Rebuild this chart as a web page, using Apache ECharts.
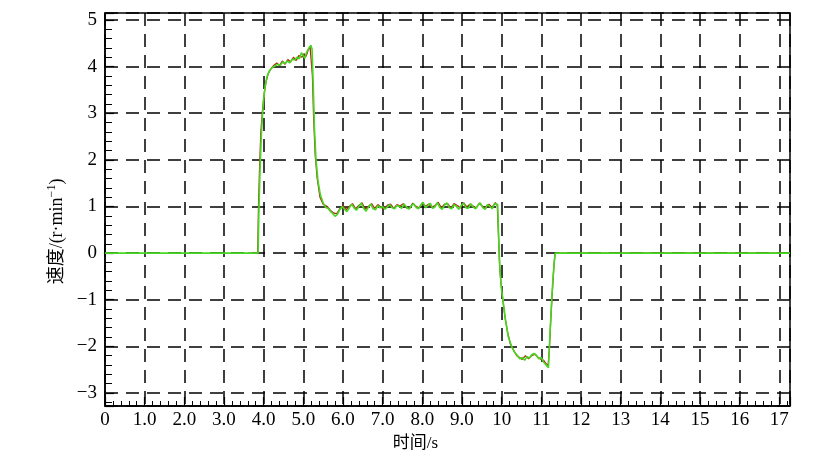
<!DOCTYPE html>
<html><head><meta charset="utf-8">
<script src="https://cdn.jsdelivr.net/npm/echarts@6/dist/echarts.min.js"></script>
<style>html,body{margin:0;padding:0;background:#fff}#c{width:825px;height:471px}</style>
</head><body><div id="c"></div>
<script>
const xTickLabels = ['0','1.0','2.0','3.0','4.0','5.0','6.0','7.0','8.0','9.0','10','11','12','13','14','15','16','17'];
const yTickLabels = {'-3':'−3','-2':'−2','-1':'−1','0':'0','1':'1','2':'2','3':'3','4':'4','5':'5'};

// green series (time s, speed r/min)
const greenTime = [
  0, 3.86, 3.88, 3.91, 3.94, 3.97, 4.00, 4.04, 4.09, 4.15,
  4.22, 4.30, 4.36, 4.42, 4.48, 4.54, 4.60, 4.66, 4.72, 4.78,
  4.84, 4.90, 4.95, 5.00, 5.04, 5.08, 5.12, 5.16, 5.19, 5.22,
  5.25, 5.28, 5.32, 5.37, 5.43, 5.50, 5.56,
  5.62, 5.68, 5.74, 5.80, 5.86, 5.92, 5.98, 6.04, 6.10, 6.16,
  6.22, 6.28, 6.34, 6.40, 6.46, 6.52, 6.58, 6.64, 6.70, 6.76,
  6.82, 6.88, 6.94, 7.00, 7.06, 7.12, 7.18, 7.24, 7.30, 7.36,
  7.42, 7.48, 7.54, 7.60, 7.66, 7.72, 7.78, 7.84, 7.90, 7.96,
  8.02, 8.08, 8.14, 8.20, 8.26, 8.32, 8.38, 8.44, 8.50, 8.56,
  8.62, 8.68, 8.74, 8.80, 8.86, 8.92, 8.98, 9.04, 9.10, 9.16,
  9.22, 9.28, 9.34, 9.40, 9.46, 9.52, 9.58, 9.64, 9.70, 9.76,
  9.82,
  9.87, 9.90, 9.93, 9.96, 10.00, 10.04, 10.10, 10.17, 10.25, 10.32,
  10.40, 10.46, 10.52, 10.58, 10.64, 10.70, 10.76, 10.82, 10.88, 10.94,
  11.00, 11.05, 11.10, 11.15, 11.18, 11.21, 11.25, 11.29, 11.33, 11.35,
  17.27
];
const greenSpeed = [
  0, 0, 0.9, 1.8, 2.5, 2.95, 3.3, 3.6, 3.8, 3.92,
  3.98, 4.02, 4.05, 4.03, 4.10, 4.07, 4.12, 4.08, 4.16, 4.14,
  4.20, 4.17, 4.30, 4.26, 4.18, 4.30, 4.37, 4.40, 4.46, 4.38,
  3.6, 2.7, 2.0, 1.55, 1.25, 1.08, 0.98,
  0.96, 0.90, 0.85, 0.79, 0.83, 0.93, 1.00, 0.94, 0.89, 0.97,
  1.05, 0.97, 0.92, 1.00, 1.07, 0.96, 0.90, 0.98, 1.05, 0.95,
  0.93, 1.02, 0.97, 1.00, 0.94, 0.99, 1.04, 0.97, 0.95, 1.02,
  1.00, 0.96, 1.05, 0.99, 0.94, 1.01, 1.06, 0.98, 0.95, 1.03,
  1.09, 0.97, 1.02, 1.07, 0.96, 0.99, 1.08, 0.98, 0.94, 1.03,
  1.08, 0.97, 0.95, 1.04, 1.00, 0.94, 1.02, 1.07, 0.97, 0.96,
  1.06, 0.99, 0.95, 1.02, 1.08, 0.98, 0.94, 1.04, 1.00, 0.95,
  1.06,
  1.10, 1.04, 0.2, -0.4, -0.8, -1.05, -1.45, -1.8, -2.0, -2.12,
  -2.2, -2.27, -2.24, -2.30, -2.22, -2.25, -2.18, -2.15, -2.20, -2.27,
  -2.24, -2.33, -2.38, -2.42, -2.46, -1.9, -1.2, -0.6, -0.15, 0,
  0
];

// red series (time s, speed r/min)
const redTime = [
  3.60, 3.85, 3.87, 3.90, 3.93, 3.97, 4.01, 4.06, 4.12, 4.19,
  4.26, 4.33, 4.40, 4.47, 4.54, 4.61, 4.68, 4.75, 4.82, 4.89,
  4.96, 5.02, 5.07, 5.12, 5.17, 5.20, 5.23, 5.26, 5.30, 5.35,
  5.42, 5.50,
  5.60, 5.68, 5.76, 5.84, 5.92, 6.00, 6.08, 6.16, 6.24, 6.32,
  6.40, 6.48, 6.56, 6.64, 6.72, 6.80, 6.88, 6.96, 7.04, 7.12,
  7.20, 7.28, 7.36, 7.44, 7.52, 7.60, 7.68, 7.76, 7.84, 7.92,
  8.00, 8.08, 8.16, 8.24, 8.32, 8.40, 8.48, 8.56, 8.64, 8.72,
  8.80, 8.88, 8.96, 9.04, 9.12, 9.20, 9.28, 9.36, 9.44, 9.52,
  9.60, 9.68, 9.76, 9.84,
  9.89, 9.92, 9.95, 9.99, 10.03, 10.08, 10.15, 10.22, 10.30, 10.38,
  10.45, 10.52, 10.60, 10.68, 10.76, 10.84, 10.92, 11.00, 11.06, 11.12,
  11.17, 11.20, 11.24, 11.28, 11.32, 11.35, 17.27
];
const redSpeed = [
  0, 0, 1.0, 1.9, 2.6, 3.05, 3.4, 3.68, 3.86, 3.96,
  4.03, 4.08, 4.02, 4.12, 4.05, 4.15, 4.10, 4.20, 4.13, 4.24,
  4.20, 4.28, 4.22, 4.35, 4.43, 4.40, 3.8, 2.9, 2.1, 1.6,
  1.2, 1.05,
  1.00, 0.92, 0.86, 0.84, 0.95, 1.02, 0.93, 1.00, 1.06, 0.95,
  1.02, 1.08, 0.94, 1.00, 1.06, 0.96, 1.04, 0.98, 0.95, 1.03,
  1.05, 0.96, 1.04, 1.01, 1.06, 0.97, 0.96, 1.07, 1.00, 0.97,
  1.08, 1.00, 1.05, 0.98, 1.02, 1.09, 0.97, 1.05, 1.06, 0.96,
  1.06, 1.02, 0.97, 1.08, 0.99, 1.05, 1.01, 0.97, 1.07, 1.00,
  0.96, 1.05, 0.98, 1.08,
  1.02, 0.4, -0.3, -0.7, -1.0, -1.35, -1.7, -1.95, -2.08, -2.2,
  -2.24, -2.28, -2.2, -2.27, -2.2, -2.17, -2.24, -2.28, -2.3, -2.37,
  -2.43, -2.1, -1.4, -0.8, -0.25, 0, 0
];

const zip = (a, b) => a.slice(0, Math.min(a.length, b.length)).map((t, i) => [t, b[i]]);

const serif = "'Liberation Serif', 'Times New Roman', serif";
const cjk = "'Liberation Serif', 'Noto Sans CJK SC', serif";

const chart = echarts.init(document.getElementById('c'), null, {renderer: 'canvas'});
chart.setOption({
  animation: false,
  backgroundColor: '#fff',
  grid: {left: 105, right: 35, top: 13, bottom: 65, show: true, borderColor: '#000', borderWidth: 1.5, backgroundColor: 'transparent'},
  xAxis: {
    type: 'value', min: 0, max: 17.27, interval: 1,
    name: '时间/s', nameLocation: 'middle', nameGap: 28,
    nameTextStyle: {fontFamily: cjk, fontSize: 17, color: '#000', padding: [0, 64, 0, 0]},
    axisLine: {show: true, onZero: false, lineStyle: {color: '#000', width: 1.5}},
    axisTick: {show: true, inside: true, length: 9, lineStyle: {color: '#000', width: 1.2}},
    minorTick: {show: true, splitNumber: 5, length: 5, lineStyle: {color: '#000', width: 1}},
    axisLabel: {
      color: '#000', fontFamily: serif, fontSize: 19, margin: 5,
      formatter: v => Number.isInteger(v) && xTickLabels[v] !== undefined ? xTickLabels[v] : ''
    },
    splitLine: {show: true, lineStyle: {color: '#000', width: 1.5, type: [13, 8]}}
  },
  yAxis: {
    type: 'value', min: -3.28, max: 5.15, minInterval: 1, maxInterval: 1,
    name: '速度/(r·min{sup|−1})', nameLocation: 'middle', nameGap: 37,
    nameTextStyle: {fontFamily: cjk, fontSize: 18, color: '#000', padding: [0, 44, 0, 0],
      rich: {sup: {fontFamily: serif, fontSize: 12, color: '#000', padding: [0, 0, 10, 0]}}},
    axisLine: {show: true, onZero: false, lineStyle: {color: '#000', width: 1.5}},
    axisTick: {show: true, inside: true, length: 9, lineStyle: {color: '#000', width: 1.2}},
    minorTick: {show: true, splitNumber: 5, length: 7, lineStyle: {color: '#000', width: 1}},
    axisLabel: {
      color: '#000', fontFamily: serif, fontSize: 19, margin: 8,
      formatter: v => Number.isInteger(v) && yTickLabels[String(v)] !== undefined ? yTickLabels[String(v)] : ''
    },
    splitLine: {show: true, lineStyle: {color: '#000', width: 1.5, type: [13, 8]}}
  },
  series: [
    {type: 'line', name: 'red', data: zip(redTime, redSpeed), showSymbol: false, symbol: 'none',
      lineStyle: {color: '#b02a10', width: 1.3}, z: 3},
    {type: 'line', name: 'green', data: zip(greenTime, greenSpeed), showSymbol: false, symbol: 'none',
      lineStyle: {color: '#44d820', width: 1.6}, z: 4}
  ]
});
</script></body></html>
